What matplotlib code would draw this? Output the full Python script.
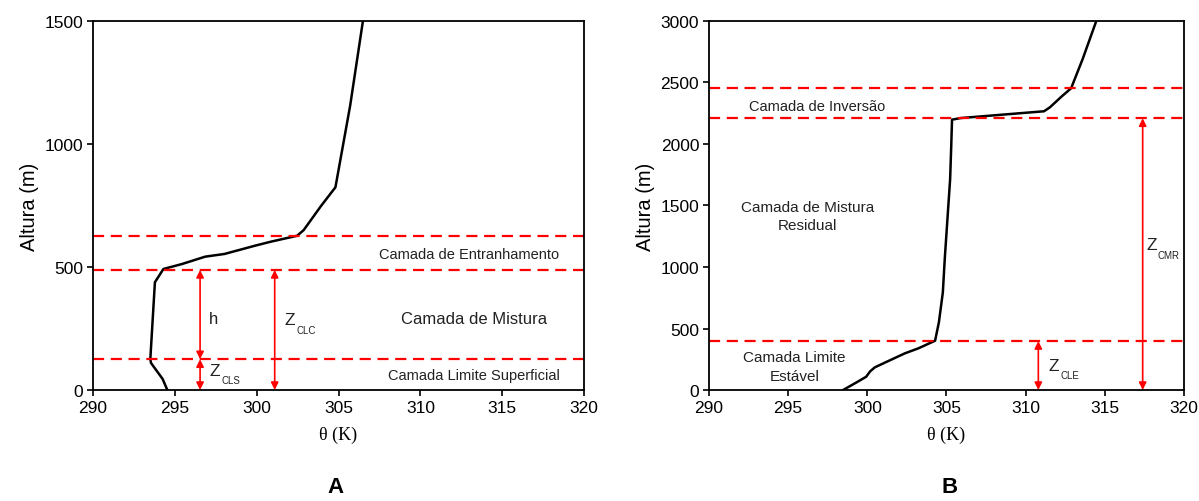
import matplotlib.pyplot as plt
from matplotlib import font_manager

# perfis de temperatura potencial
theta_a = [294.54, 294.25, 293.54, 293.50, 293.78, 294.30, 295.43, 296.85, 298.03,
           299.92, 300.87, 302.47, 302.87, 303.94, 304.81, 305.71, 306.49]
z_a = [0, 45, 110, 126, 438, 492, 512, 542, 553, 587, 603, 627, 650, 749, 824, 1156, 1500]

theta_b = [298.47, 299.32, 299.93, 300.18, 300.47, 301.15, 302.37, 303.23, 304.28,
           304.52, 304.77, 304.89, 305.06, 305.23, 305.30, 305.35, 305.91, 311.16,
           311.53, 312.26, 312.87, 313.60, 314.46]
z_b = [0, 62, 108, 152, 184, 225, 298, 339, 401, 550, 794, 1065, 1390, 1715, 1986,
       2198, 2211, 2266, 2298, 2385, 2453, 2691, 3000]

# alturas das camadas
camadas_a = [627, 488, 125]
camadas_b = [2453, 2209, 398]

nomes = set(f.name for f in font_manager.fontManager.ttflist)
fonte = 'Liberation Sans Narrow' if 'Liberation Sans Narrow' in nomes else 'Liberation Sans'
plt.rcParams['font.family'] = [fonte, 'DejaVu Sans']

fig = plt.figure(figsize=(11.99, 5.02), dpi=100)
ax_a = fig.add_axes([0.0776, 0.2211, 0.4095, 0.7351])
ax_b = fig.add_axes([0.5913, 0.2211, 0.3962, 0.7351])

txt = dict(family=['Liberation Sans', 'DejaVu Sans'], color='#222222')


def seta(ax, x, y0, y1):
    ax.annotate('', xy=(x, y0), xytext=(x, y1),
                arrowprops=dict(arrowstyle='<|-|>', color='red', lw=1.2,
                                mutation_scale=11, shrinkA=0, shrinkB=0))


def rotulo_z(ax, x, y, sub):
    # Z com subscrito pequeno
    ax.text(x, y, 'Z', fontsize=12.5, va='center', **txt)
    ax.annotate(sub, xy=(x, y), xytext=(8.5, -7), textcoords='offset points',
                fontsize=7, va='center', **txt)


def formata(ax, ymax, yticks):
    ax.set_xlim(290, 320)
    ax.set_ylim(0, ymax)
    ax.set_xticks(range(290, 321, 5))
    ax.set_yticks(yticks)
    ax.tick_params(direction='out', length=4, width=1.2, labelsize=12.5, pad=3)
    for s in ax.spines.values():
        s.set_linewidth(1.3)
    ax.set_ylabel('Altura (m)', fontsize=14.5, family=['Liberation Sans', 'DejaVu Sans'])
    ax.set_xlabel('θ (K)', fontsize=13, family=['Liberation Serif', 'DejaVu Serif'], labelpad=8)


# painel A
ax = ax_a
ax.plot(theta_a, z_a, color='black', lw=1.8)
for z in camadas_a:
    ax.axhline(z, color='red', lw=1.6, dashes=(5, 3))
seta(ax, 296.54, camadas_a[1], camadas_a[2])
seta(ax, 296.54, camadas_a[2], 0)
seta(ax, 301.1, camadas_a[1], 0)
ax.text(297.1, 289, 'h', fontsize=12, va='center', **txt)
rotulo_z(ax, 301.7, 285, 'CLC')
rotulo_z(ax, 297.1, 80, 'CLS')
ax.text(313.0, 553, 'Camada de Entranhamento', fontsize=10.5, ha='center', va='center', **txt)
ax.text(313.3, 289, 'Camada de Mistura', fontsize=12, ha='center', va='center', **txt)
ax.text(313.3, 61, 'Camada Limite Superficial', fontsize=10.5, ha='center', va='center', **txt)
formata(ax, 1500, [0, 500, 1000, 1500])

# painel B
ax = ax_b
ax.plot(theta_b, z_b, color='black', lw=1.8)
for z in camadas_b:
    ax.axhline(z, color='red', lw=1.6, dashes=(5, 3))
seta(ax, 310.8, camadas_b[2], 0)
seta(ax, 317.39, camadas_b[1], 0)
rotulo_z(ax, 317.6, 1180, 'CMR')
rotulo_z(ax, 311.45, 200, 'CLE')
ax.text(296.8, 2306, 'Camada de Inversão', fontsize=10.5, ha='center', va='center', **txt)
ax.text(296.2, 1417, 'Camada de Mistura\nResidual', fontsize=11, ha='center', va='center',
        linespacing=1.4, **txt)
ax.text(295.4, 190, 'Camada Limite\nEstável', fontsize=11, ha='center', va='center',
        linespacing=1.4, **txt)
formata(ax, 3000, range(0, 3001, 500))

fig.text(335 / 1199, 1 - 488 / 502, 'A', fontsize=16, fontweight='bold', ha='center', va='center',
         family=['Liberation Sans', 'DejaVu Sans'])
fig.text(950 / 1199, 1 - 488 / 502, 'B', fontsize=16, fontweight='bold', ha='center', va='center',
         family=['Liberation Sans', 'DejaVu Sans'])

fig.savefig('out.png', dpi=100)
